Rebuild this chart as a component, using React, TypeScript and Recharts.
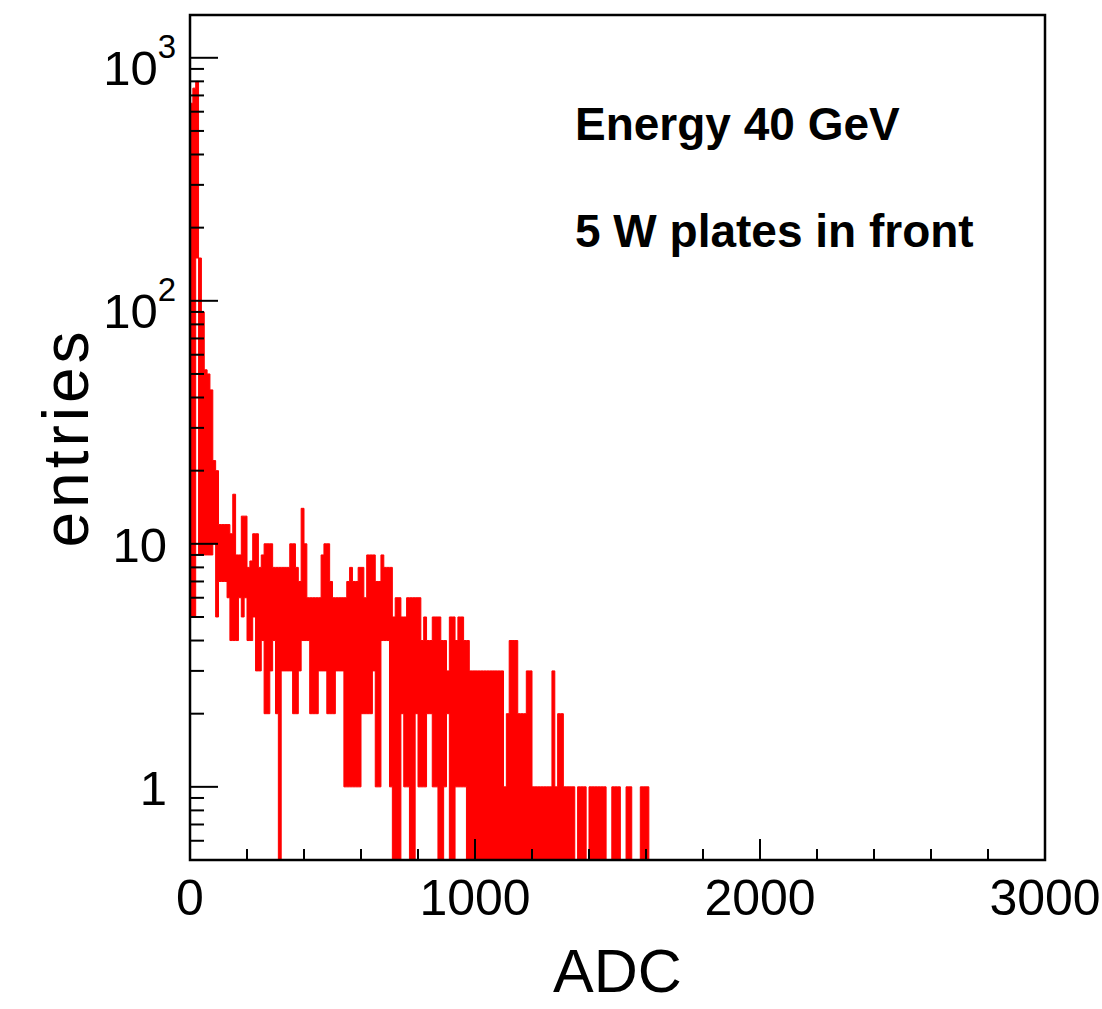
import React from 'react';
import { ComposedChart, Area, XAxis, YAxis, ReferenceArea } from 'recharts';

// Histogram of ADC values, 10-ADC bins starting at 0.
// Each bin: the highest and lowest count seen inside it (the red band).
const BIN_WIDTH = 10;

const upperCounts = [
  650, 750, 800, 150, 90, 52, 50, 43, 22, 20,
  12, 12, 12, 12, 11, 16, 9, 9, 13, 13,
  8, 8.5, 11, 11, 8, 9, 10, 10, 10, 8,
  8, 8, 8, 8, 8, 10, 10, 8, 7, 14,
  10, 6, 6, 6, 6, 6, 9, 10, 10, 7,
  6, 6, 6, 6, 6, 7, 8, 7, 7, 8,
  8, 6, 9, 9, 9, 7, 7, 9, 8, 8,
  8, 5, 6, 6, 5, 5, 6, 6, 6, 6,
  6, 4, 5, 4, 4, 5, 5, 5, 4, 4,
  3, 5, 5, 4, 5, 5, 4, 4, 3, 3,
  3, 3, 3, 3, 3, 3, 3, 3, 3, 3,
  1, 2, 4, 4, 4, 2, 2, 2, 3, 3,
  1, 1, 1, 1, 1, 1, 1, 3, 1, 2,
  2, 1, 1, 1, 1, 0, 1, 1, 1, 0,
  1, 1, 1, 1, 1, 1, 0, 0, 1, 1,
  1, 0, 0, 1, 1, 0, 0, 0, 1, 1,
  1, 0,
];

const lowerCounts = [
  5, 5, 150, 9, 9, 9, 9, 9, 10, 5,
  7, 7, 7, 6, 4, 4, 4, 6, 5, 6,
  4, 4, 5, 3, 3, 4, 2, 2, 3, 4,
  2, 0, 3, 3, 3, 3, 2, 2, 3, 4,
  4, 4, 2, 2, 2, 3, 3, 3, 2, 2,
  2, 3, 3, 3, 1, 1, 1, 1, 1, 1,
  2, 2, 2, 2, 3, 1, 1, 4, 4, 4,
  1, 0, 0, 0, 2, 1, 1, 0, 0, 2,
  1, 1, 1, 2, 2, 1, 1, 0, 0, 1,
  2, 0, 0, 1, 1, 1, 1, 0, 0, 0,
  0, 0, 0, 0, 0, 0, 0, 0, 0, 0,
  0, 0, 0, 0, 0, 0, 0, 0, 0, 0,
  0, 0, 0, 0, 0, 0, 0, 0, 0, 0,
  0, 0, 0, 0, 0, 0, 0, 0, 0, 0,
  0, 0, 0, 0, 0, 0, 0, 0, 0, 0,
  0, 0, 0, 0, 0, 0, 0, 0, 0, 0,
  0, 0,
];

const xTicks = [0, 200, 400, 600, 800, 1000, 1200, 1400, 1600, 1800, 2000, 2200, 2400, 2600, 2800, 3000];
const xMajorTicks = [0, 1000, 2000, 3000];
const yTicks = [
  0.6, 0.7, 0.8, 0.9,
  1, 2, 3, 4, 5, 6, 7, 8, 9,
  10, 20, 30, 40, 50, 60, 70, 80, 90,
  100, 200, 300, 400, 500, 600, 700, 800, 900,
  1000,
];
const yMajorLabels: Record<number, [string, string]> = {
  1: ['1', ''],
  10: ['10', ''],
  100: ['10', '2'],
  1000: ['10', '3'],
};
const annotations = ['Energy 40 GeV', '5 W plates in front'];

const FLOOR = 0.01; // empty bins sit below the visible log range
const data = upperCounts.map((u, i) => ({
  adc: i * BIN_WIDTH,
  band: [Math.max(lowerCounts[i], FLOOR), Math.max(u, FLOOR)],
}));

const FONT = '"Liberation Sans", Arial, Helvetica, sans-serif';

const XTick = (props: any) => {
  const { x, y, payload } = props;
  const v = payload.value;
  const major = xMajorTicks.includes(v);
  return (
    <g>
      <line x1={x} x2={x} y1={y} y2={y - (major ? 21 : 11)} stroke="#000" strokeWidth={2} />
      {major && (
        <text x={x} y={y + 55} textAnchor="middle" fontSize={50} fontFamily={FONT} fill="#000">
          {v}
        </text>
      )}
    </g>
  );
};

const YTick = (props: any) => {
  const { x, y, payload } = props;
  const v = payload.value;
  const lab = yMajorLabels[v];
  const major = !!lab;
  return (
    <g>
      <line x1={x} x2={x + (major ? 28 : 14)} y1={y} y2={y} stroke="#000" strokeWidth={2} />
      {lab && lab[1] ? (
        <text x={x - 14} y={y + 27} textAnchor="end" fontSize={49} fontFamily={FONT} fill="#000">
          {lab[0]}
          <tspan dy={-27} fontSize={33}>{lab[1]}</tspan>
        </text>
      ) : lab ? (
        <text x={x - 23} y={y + 18} textAnchor="end" fontSize={49} fontFamily={FONT} fill="#000">
          {lab[0]}
        </text>
      ) : null}
    </g>
  );
};

const XTitle = (props: any) => {
  const vb = props.viewBox;
  return (
    <text x={vb.x + vb.width / 2} y={vb.y + 132} textAnchor="middle" fontSize={61} fontFamily={FONT} fill="#000">
      ADC
    </text>
  );
};

const YTitle = (props: any) => {
  const vb = props.viewBox;
  const cx = vb.x + 88;
  const cy = vb.y + vb.height / 2;
  return (
    <text
      x={cx}
      y={cy}
      transform={`rotate(-90, ${cx}, ${cy})`}
      textAnchor="middle"
      fontSize={64}
      letterSpacing={4}
      fontFamily={FONT}
      fill="#000"
    >
      entries
    </text>
  );
};

export default function App() {
  return (
    <div style={{ position: 'absolute', left: 0, top: 0, width: 1102, height: 1009, background: '#fff' }}>
      <ComposedChart
        width={1102}
        height={1009}
        data={data}
        margin={{ top: 15, right: 57, bottom: 0, left: 0 }}
      >
        <XAxis
          dataKey="adc"
          type="number"
          domain={[0, 3000]}
          ticks={xTicks}
          interval={0}
          tickSize={0}
          tickMargin={0}
          axisLine={false}
          tickLine={false}
          tick={<XTick />}
          height={149}
          label={<XTitle />}
        />
        <YAxis
          type="number"
          scale="log"
          domain={[0.5, 1500]}
          allowDataOverflow
          ticks={yTicks}
          interval={0}
          tickSize={0}
          tickMargin={0}
          axisLine={false}
          tickLine={false}
          tick={<YTick />}
          width={190}
          label={<YTitle />}
        />
        <Area
          dataKey="band"
          type="stepAfter"
          stroke="#ff0000"
          strokeWidth={1}
          fill="#ff0000"
          fillOpacity={1}
          isAnimationActive={false}
          dot={false}
          activeDot={false}
        />
        <ReferenceArea x1={0} x2={3000} y1={0.5} y2={1500} fill="none" stroke="#000" strokeWidth={2.5} />
      </ComposedChart>
      <svg
        width={1102}
        height={1009}
        style={{ position: 'absolute', left: 0, top: 0, pointerEvents: 'none' }}
      >
        <text x={575} y={140} fontSize={46} fontWeight="bold" fontFamily={FONT} fill="#000">
          {annotations[0]}
        </text>
        <text x={575} y={247} fontSize={46} fontWeight="bold" fontFamily={FONT} fill="#000">
          {annotations[1]}
        </text>
      </svg>
    </div>
  );
}
